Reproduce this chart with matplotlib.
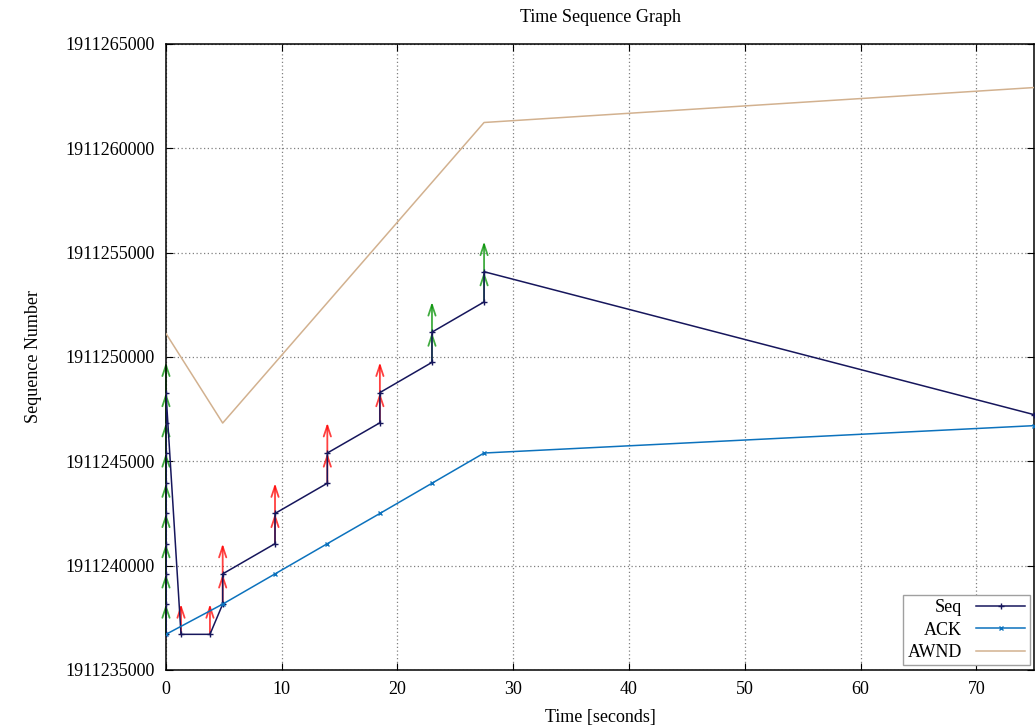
import matplotlib
matplotlib.use("Agg")
import matplotlib.pyplot as plt
from matplotlib.ticker import FuncFormatter, MultipleLocator

plt.rcParams['font.family'] = ['Liberation Serif', 'DejaVu Serif']
plt.rcParams['font.size'] = 13

# Segments sent: time, starting sequence number, retransmission flag
seg_time = [0, 0, 0, 0, 0, 0, 0, 0, 0,
            1.3, 3.8, 4.9, 4.9, 9.42, 9.42, 13.94, 13.94,
            18.48, 18.48, 22.98, 22.98, 27.48, 27.48]
seg_seq = [1911236708, 1911238156, 1911239604, 1911241052, 1911242500,
           1911243948, 1911245396, 1911246844, 1911248292,
           1911236708, 1911236708, 1911238156, 1911239604, 1911241052, 1911242500,
           1911243948, 1911245396, 1911246844, 1911248292, 1911249740, 1911251188,
           1911252636, 1911254084]
seg_retx = [False] * 9 + [True] * 10 + [False] * 4
seg_len = 1448

# Seq line (continues past the visible range)
seq_time = seg_time + [75]
seq_val = seg_seq + [1911247234]

# ACK line
ack_time = [0, 4.9, 9.42, 13.94, 18.48, 22.98, 27.48, 75]
ack_val = [1911236708, 1911238156, 1911239604, 1911241052, 1911242500,
           1911243948, 1911245396, 1911246708]

# Advertised window line
awnd_time = [0, 4.9, 27.48, 75]
awnd_val = [1911251124, 1911246833, 1911261234, 1911262909]

fig = plt.figure(figsize=(10.36, 7.28), dpi=100)
ax = fig.add_axes([0.1602, 0.0797, 0.838, 0.860])

seq_color = '#16165c'
ack_color = '#0c72bd'
awnd_color = '#d2b18f'

# arrows for segments
for t, s, r in zip(seg_time, seg_seq, seg_retx):
    c = '#ff0000' if r else '#009000'
    ax.annotate('', xy=(t, s + seg_len), xytext=(t, s),
                arrowprops=dict(arrowstyle='->,head_length=0.6,head_width=0.2',
                                color=c, lw=1.3, alpha=0.75,
                                shrinkA=0, shrinkB=0), zorder=2)

ax.plot(seq_time, seq_val, color=seq_color, lw=1.1, marker='+', ms=5,
        mew=1.0, label='Seq', zorder=3)
ax.plot(ack_time, ack_val, color=ack_color, lw=1.1, marker='x', ms=3.5,
        mew=1.0, label='ACK', zorder=3)
ax.plot(awnd_time, awnd_val, color=awnd_color, lw=1.1, label='AWND', zorder=3)

ax.set_xlim(0, 75)
ax.set_ylim(1911235000, 1911265000)
ax.xaxis.set_major_locator(MultipleLocator(10))
ax.yaxis.set_major_locator(MultipleLocator(5000))
ax.yaxis.set_major_formatter(FuncFormatter(lambda v, p: f"{int(round(v))}"))

ax.grid(True, color='#808080', linestyle=(0, (1, 2)), lw=0.9)
ax.tick_params(direction='in', top=True, right=True, length=5, width=0.8,
               pad=8, labelsize=13)
for sp in ax.spines.values():
    sp.set_linewidth(1.1)

ax.set_title('Time Sequence Graph', fontsize=13, pad=16)
ax.set_xlabel('Time [seconds]', fontsize=13, labelpad=8)
ax.set_ylabel('Sequence Number', fontsize=13, labelpad=17)

leg = ax.legend(loc='lower right', markerfirst=False, fancybox=False,
                edgecolor='#a0a0a0', framealpha=1, fontsize=13,
                handlelength=2.7, handletextpad=0.8, labelspacing=0.3,
                borderpad=0.25, borderaxespad=0.25)
leg.get_frame().set_linewidth(1.0)

fig.savefig('out.png', dpi=100)
